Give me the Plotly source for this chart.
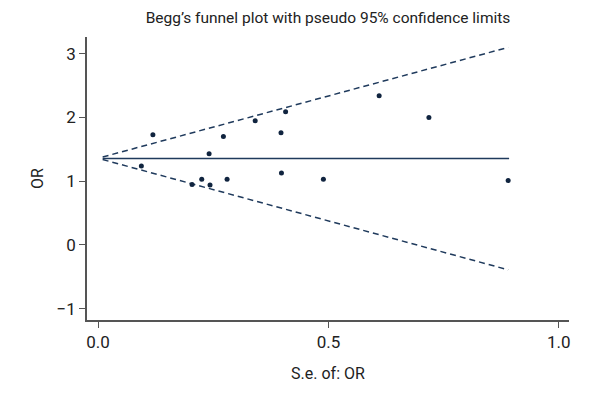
import plotly.graph_objects as go

# Study-level data
se = [0.094, 0.119, 0.204, 0.225, 0.241, 0.243, 0.272, 0.280, 0.341, 0.397,
      0.398, 0.407, 0.489, 0.610, 0.718, 0.890]
orv = [1.24, 1.73, 0.95, 1.03, 1.43, 0.94, 1.70, 1.03, 1.95, 1.76,
       1.13, 2.09, 1.03, 2.34, 2.00, 1.01]

# Pooled estimate line and pseudo 95% limits (end points)
pooled_se = [0.01, 0.892]
pooled_or = [1.357, 1.357]
funnel_se = [0.01, 0.89]
funnel_upper = [1.38, 3.10]
funnel_lower = [1.34, -0.39]

x_ticks = [0.0, 0.5, 1.0]
x_ticklabels = ["0.0", "0.5", "1.0"]
y_ticks = [-1, 0, 1, 2, 3]
y_ticklabels = ["\u22121", "0", "1", "2", "3"]

navy = "#1f3a5c"
FONT = "Roboto, Liberation Sans, sans-serif"
TXT = "#222222"

fig = go.Figure()
fig.add_trace(go.Scatter(x=funnel_se, y=funnel_upper, mode="lines",
                         line=dict(color=navy, width=1.5, dash="6px,4px"),
                         hoverinfo="skip"))
fig.add_trace(go.Scatter(x=funnel_se, y=funnel_lower, mode="lines",
                         line=dict(color=navy, width=1.5, dash="6px,4px"),
                         hoverinfo="skip"))
fig.add_trace(go.Scatter(x=pooled_se, y=pooled_or, mode="lines",
                         line=dict(color=navy, width=1.5), hoverinfo="skip"))
fig.add_trace(go.Scatter(x=se, y=orv, mode="markers",
                         marker=dict(color="#10243f", size=5)))

fig.update_layout(
    width=584, height=384,
    margin=dict(l=79, r=23, t=29, b=63),
    paper_bgcolor="white", plot_bgcolor="white",
    showlegend=False,
    font=dict(family=FONT, size=17, color=TXT),
    title=dict(text="Begg\u2019s funnel plot with pseudo 95% confidence limits",
               xref="paper", x=0.5, xanchor="center", y=0.974, yanchor="middle",
               font=dict(family=FONT, size=15.5, color=TXT)),
)
fig.update_xaxes(range=[-0.024, 1.022], tickvals=x_ticks, ticktext=x_ticklabels,
                 showgrid=False, zeroline=False, showline=True,
                 linecolor="#555555", linewidth=1.5,
                 ticks="outside", ticklen=6, tickcolor="#555555", tickwidth=1.2,
                 tickfont=dict(size=17),
                 title=dict(text="S.e. of: OR", standoff=17,
                            font=dict(family=FONT, size=16)))
fig.update_yaxes(range=[-1.178, 3.263], tickvals=y_ticks, ticktext=y_ticklabels,
                 showgrid=False, zeroline=False, showline=True,
                 linecolor="#555555", linewidth=1.5,
                 ticks="outside", ticklen=6, tickcolor="#555555", tickwidth=1.2,
                 tickfont=dict(size=17),
                 title=dict(text="OR", standoff=9,
                            font=dict(family=FONT, size=16)))

fig.write_html("out.html")
